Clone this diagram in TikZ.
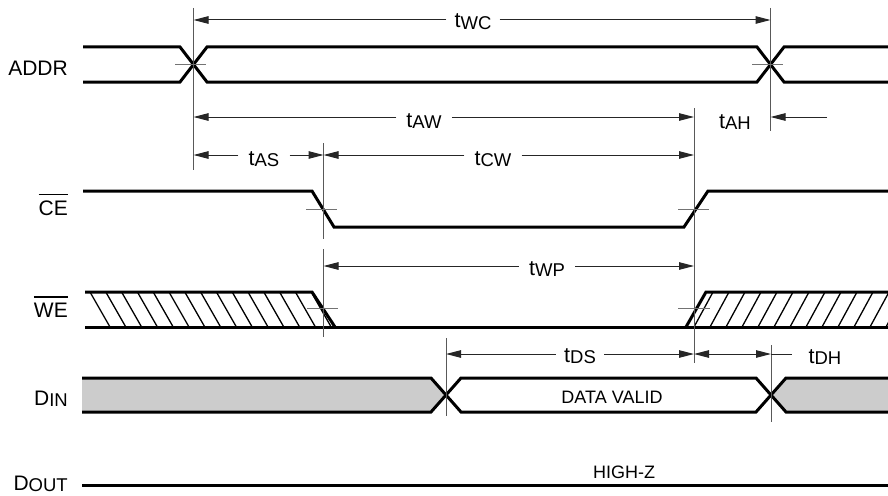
\documentclass[tikz,border=0pt]{standalone}
\usepackage{fontspec}
\setmainfont{Liberation Sans}
\usetikzlibrary{arrows.meta}
\newcommand\tsub[1]{{\fontsize{18.5}{18.5}\selectfont\raisebox{-1.5pt}{#1}}}
\newcommand\ovbar[1]{\vbox{\hrule height 1.4pt\kern 5pt\hbox{#1}}}
\begin{document}
\begin{tikzpicture}[x=1pt,y=-1pt,
  sig/.style={line width=3pt, line join=miter},
  hatch/.style={line width=1.3pt},
  guide/.style={line width=1pt, draw=black!65},
  tick/.style={line width=1pt, draw=black!55},
  dim/.style={line width=1pt, draw=black!85, -{Triangle[length=15pt,width=7.5pt]}},
  dimline/.style={line width=1pt, draw=black!85},
  lab/.style={font=\fontsize{21}{21}\selectfont, anchor=base east, inner sep=0pt},
  tlab/.style={font=\fontsize{21.5}{21.5}\selectfont, anchor=base, inner xsep=9pt, inner ysep=0pt},
  small/.style={font=\fontsize{18}{18}\selectfont, anchor=base, inner sep=0pt}]
\useasboundingbox (0,0) rectangle (888,495);

% ---------- fills ----------
\fill[gray!40] (82,378) -- (431,378) -- (446,395) -- (431,412) -- (82,412) -- cycle;
\fill[gray!40] (771,395) -- (786,378) -- (888,378) -- (888,412) -- (786,412) -- cycle;

% ---------- hatching of WE ----------
\begin{scope}
  \clip (85,292) -- (312,292) -- (335,327) -- (85,327) -- cycle;
  \foreach \i in {0,...,14} \draw[hatch] ({90+15.8*\i},292) -- ({110+15.8*\i},327);
\end{scope}
\begin{scope}
  \clip (686,327) -- (706,292) -- (888,292) -- (888,327) -- cycle;
  \foreach \i in {0,...,13} \draw[hatch] ({694+16*\i},327) -- ({713+16*\i},292);
\end{scope}

% ---------- signals ----------
% ADDR
\draw[sig] (83,47) -- (180,47) -- (207,82) -- (757,82) -- (784,47) -- (888,47);
\draw[sig] (83,82) -- (180,82) -- (207,47) -- (757,47) -- (784,82) -- (888,82);
% CE
\draw[sig] (83,191) -- (312,191) -- (334,227) -- (684,227) -- (708,191) -- (888,191);
% WE
\draw[sig] (85,292) -- (312,292) -- (335,327);
\draw[sig] (85,327) -- (888,327);
\draw[sig] (686,327) -- (706,292) -- (888,292);
% DIN
\draw[sig] (82,378) -- (431,378) -- (461,412) -- (756,412) -- (786,378) -- (888,378);
\draw[sig] (82,412) -- (431,412) -- (461,378) -- (756,378) -- (786,412) -- (888,412);
% DOUT
\draw[sig] (82,485) -- (888,485);

% ---------- guides ----------
\draw[guide] (193.5,8) -- (193.5,170);
\draw[guide] (770.5,8) -- (770.5,131);
\draw[guide] (694,108) -- (694,363);
\draw[guide] (323.5,143) -- (323.5,239);
\draw[guide] (323.5,249) -- (323.5,337);
\draw[guide] (446,338) -- (446,416);
\draw[guide] (771,345) -- (771,422);

% ---------- ticks ----------
\draw[tick] (175,64.5) -- (206,64.5);
\draw[tick] (752,64.5) -- (783,64.5);
\draw[tick] (306,209) -- (337,209);
\draw[tick] (678,209) -- (709,209);
\draw[tick] (307,308) -- (338,308);
\draw[tick] (678,308) -- (710,308);

% ---------- coordinates ----------
\coordinate (wcL) at (193.5,20);  \coordinate (wcR) at (770.5,20);
\coordinate (awL) at (193.5,117); \coordinate (awR) at (694,117);
\coordinate (asL) at (193.5,155); \coordinate (asR) at (323.5,155);
\coordinate (cwL) at (323.5,155); \coordinate (cwR) at (694,155);
\coordinate (ahS) at (827,117);   \coordinate (ahE) at (770.5,117);
\coordinate (wpL) at (323.5,266); \coordinate (wpR) at (694,266);
\coordinate (dsL) at (446,354);   \coordinate (dsR) at (694,354);
\coordinate (dhL) at (694,354);   \coordinate (dhR) at (771,354);

% ---------- timing labels ----------
\node[tlab, inner xsep=8pt] (twc) at (473,28) {t\tsub{WC}};
\node[tlab, inner xsep=10pt] (taw) at (424,127) {t\tsub{AW}};
\node[tlab, inner xsep=10pt] (tas) at (264,165) {t\tsub{AS}};
\node[tlab, inner xsep=10pt] (tcw) at (493,165) {t\tsub{CW}};
\node[tlab, inner xsep=0pt] (tah) at (735,128) {t\tsub{AH}};
\node[tlab, inner xsep=10pt] (twp) at (547,275) {t\tsub{WP}};
\node[tlab, inner xsep=8pt] (tds) at (580,362) {t\tsub{DS}};
\node[tlab, inner xsep=16pt] (tdh) at (825,363) {t\tsub{DH}};

\draw[dim] (twc.west |- wcL) -- (wcL);
\draw[dim] (twc.east |- wcR) -- (wcR);
\draw[dim] (taw.west |- awL) -- (awL);
\draw[dim] (taw.east |- awR) -- (awR);
\draw[dim] (tas.west |- asL) -- (asL);
\draw[dim] (tas.east |- asR) -- (asR);
\draw[dim] (tcw.west |- cwL) -- (cwL);
\draw[dim] (tcw.east |- cwR) -- (cwR);
\draw[dim] (ahS) -- (ahE);
\draw[dim] (twp.west |- wpL) -- (wpL);
\draw[dim] (twp.east |- wpR) -- (wpR);
\draw[dim] (tds.west |- dsL) -- (dsL);
\draw[dim] (tds.east |- dsR) -- (dsR);
\draw[dim, {Triangle[length=15pt,width=7.5pt]}-{Triangle[length=15pt,width=7.5pt]}] (dhL) -- (dhR);
\draw[dimline] (dhR) -- (tdh.west |- dhR);

% ---------- signal labels ----------
\node[lab] (laddr) at (68,75) {ADDR};
\node[lab] (lce) at (68,215) {\ovbar{CE}};
\node[lab] (lwe) at (68,317) {\ovbar{WE}};
\node[lab] (ldin) at (68,405) {D\tsub{IN}};
\node[lab] (ldout) at (68,490) {D\tsub{OUT}};

\node[small] (valid) at (612,403) {DATA VALID};
\node[small] (highz) at (624,478) {HIGH-Z};
\end{tikzpicture}
\end{document}
